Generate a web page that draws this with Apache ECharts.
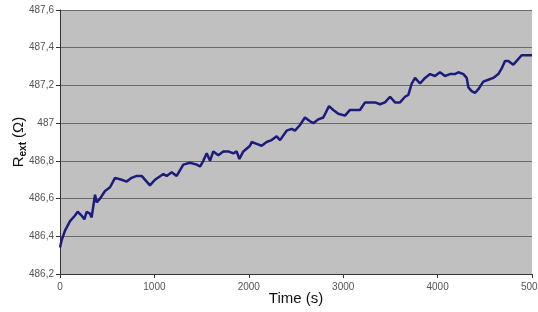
<!DOCTYPE html>
<html>
  <head>
    <meta charset="utf-8" />
    <title>Rext vs time</title>
    <script src="https://cdn.jsdelivr.net/npm/echarts/dist/echarts.min.js"></script>
    <style>
      html, body { margin: 0; padding: 0; background: #fff; }
    </style>
  </head>
  <body>
    <div id="main" style="width: 538px; height: 312px"></div>
    <script type="text/javascript">
      // time (s)
      var times = [
        0, 18, 53, 106, 159, 187, 229, 258, 282, 318, 335, 371, 388, 424, 477, 530,
        583, 653, 706, 759, 812, 865, 918, 953, 1006, 1024, 1095, 1130, 1183, 1236,
        1306, 1377, 1448, 1483, 1518, 1554, 1589, 1624, 1677, 1730, 1783, 1836, 1871,
        1900, 1942, 1960, 2013, 2030, 2083, 2136, 2189, 2242, 2295, 2331, 2401, 2454,
        2489, 2542, 2595, 2648, 2684, 2737, 2789, 2850, 2895, 2948, 3019, 3072, 3125,
        3178, 3231, 3284, 3337, 3390, 3443, 3496, 3549, 3602, 3655, 3690, 3726, 3761,
        3814, 3867, 3920, 3972, 4025, 4078, 4131, 4184, 4220, 4273, 4308, 4326, 4361,
        4396, 4432, 4484, 4537, 4590, 4643, 4679, 4714, 4749, 4802, 4838, 4890, 4926,
        4979, 5000
      ];
      // Rext (ohm)
      var rext = [
        486.34, 486.38, 486.43, 486.48, 486.51, 486.53, 486.51, 486.49, 486.53, 486.52,
        486.50, 486.62, 486.58, 486.60, 486.64, 486.66, 486.71, 486.70, 486.69, 486.71,
        486.72, 486.72, 486.69, 486.67, 486.70, 486.71, 486.73, 486.72, 486.74, 486.72,
        486.78, 486.79, 486.78, 486.77, 486.80, 486.84, 486.80, 486.85, 486.83, 486.85,
        486.85, 486.84, 486.85, 486.81, 486.85, 486.86, 486.88, 486.90, 486.89, 486.88,
        486.90, 486.91, 486.93, 486.91, 486.96, 486.97, 486.96, 486.99, 487.03, 487.01,
        487.00, 487.02, 487.03, 487.09, 487.07, 487.05, 487.04, 487.07, 487.07, 487.07,
        487.11, 487.11, 487.11, 487.10, 487.11, 487.14, 487.11, 487.11, 487.14, 487.15,
        487.21, 487.24, 487.21, 487.24, 487.26, 487.25, 487.27, 487.25, 487.26, 487.26,
        487.27, 487.26, 487.24, 487.19, 487.17, 487.16, 487.18, 487.22, 487.23, 487.24,
        487.26, 487.29, 487.33, 487.33, 487.31, 487.33, 487.36, 487.36, 487.36, 487.36
      ];

      var myChart = echarts.init(document.getElementById('main'));

      var option = {
        animation: false,
        grid: {
          left: 60,
          right: 6,
          top: 10,
          bottom: 38,
          outerBoundsMode: 'none',
          containLabel: false,
          show: true,
          backgroundColor: '#c0c0c0',
          borderWidth: 0
        },
        xAxis: {
          type: 'value',
          min: 0,
          max: 5000,
          interval: 1000,
          name: 'Time (s)',
          nameLocation: 'middle',
          nameGap: 17,
          nameMoveOverlap: false,
          nameTextStyle: { fontFamily: 'Liberation Sans', fontSize: 15, color: '#111' },
          axisLine: { lineStyle: { color: '#333', width: 1 } },
          axisTick: { show: true, length: 4, lineStyle: { color: '#333' } },
          axisLabel: {
            fontFamily: 'Liberation Sans',
            fontSize: 10,
            color: '#555',
            margin: 8,
            formatter: function (v) { return String(v); }
          },
          splitLine: { show: false }
        },
        yAxis: {
          type: 'value',
          min: 486.2,
          max: 487.6,
          interval: 0.2,
          name: '{r|R}{sub|ext}{r| (Ω)}',
          nameLocation: 'middle',
          nameRotate: 90,
          nameGap: 32,
          nameMoveOverlap: false,
          nameTextStyle: {
            rich: {
              r: { fontFamily: 'Liberation Sans', fontSize: 15, color: '#111' },
              sub: { fontFamily: 'Liberation Sans', fontSize: 10, fontWeight: 'bold', color: '#111', padding: [8, 0, 0, 0] }
            }
          },
          axisLine: { show: true, lineStyle: { color: '#333', width: 1 } },
          axisTick: { show: true, length: 4, lineStyle: { color: '#333' } },
          axisLabel: {
            fontFamily: 'Liberation Sans',
            fontSize: 10,
            color: '#555',
            margin: 6,
            formatter: function (v) {
              var s = v.toFixed(1);
              if (s.slice(-2) === '.0') s = s.slice(0, -2);
              return s.replace('.', ',');
            }
          },
          splitLine: { show: true, lineStyle: { color: '#6a6a6a', width: 1 } }
        },
        series: [
          {
            type: 'line',
            data: times.map(function (t, i) { return [t, rext[i]]; }),
            showSymbol: false,
            lineStyle: { color: '#1c1c7c', width: 2.5 },
            itemStyle: { color: '#1c1c7c' }
          }
        ]
      };

      myChart.setOption(option);
    </script>
  </body>
</html>
